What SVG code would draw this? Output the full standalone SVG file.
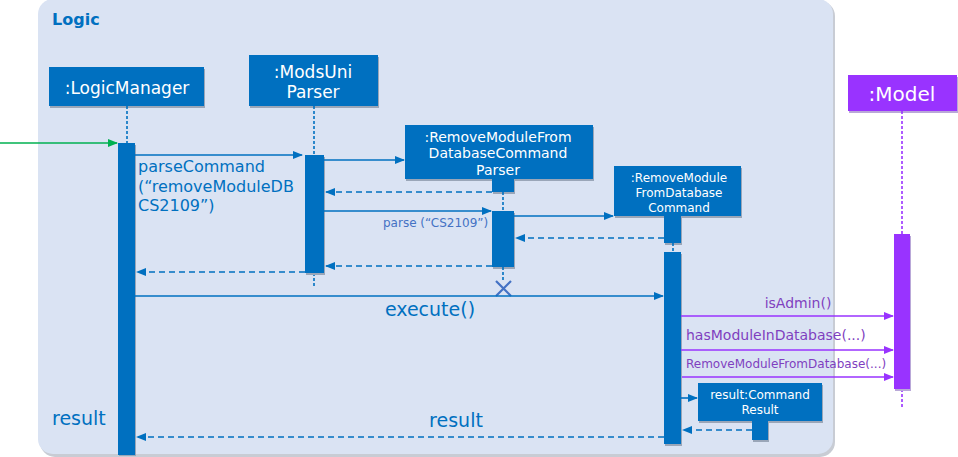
<svg xmlns="http://www.w3.org/2000/svg" width="958" height="457" viewBox="0 0 958 457">
<style>
text{font-family:"DejaVu Sans","Liberation Sans",sans-serif}
.box{fill:#0070C0}
.pbox{fill:#9933FF}
.sh{fill:#9aa6b8}
.wt{fill:#ffffff;text-anchor:middle}
.lbl{fill:#0070C0}
.plbl{fill:#7F3FBF}
.msg{stroke:#0070C0;stroke-width:1.6;fill:none}
.ret{stroke:#0070C0;stroke-width:1.6;fill:none;stroke-dasharray:6 4}
.pmsg{stroke:#9933FF;stroke-width:1.6;fill:none}
.life{stroke:#0070C0;stroke-width:1.6;stroke-dasharray:3 2}
.plife{stroke:#9933FF;stroke-width:1.6;stroke-dasharray:3 2}
</style>
<defs>
<marker id="ab" markerWidth="10" markerHeight="8" refX="9" refY="4" orient="auto" markerUnits="userSpaceOnUse"><path d="M0,0 L10,4 L0,8 Z" fill="#0070C0"/></marker>
<marker id="ap" markerWidth="10" markerHeight="8" refX="9" refY="4" orient="auto" markerUnits="userSpaceOnUse"><path d="M0,0 L10,4 L0,8 Z" fill="#9933FF"/></marker>
<marker id="ag" markerWidth="10" markerHeight="8" refX="9" refY="4" orient="auto" markerUnits="userSpaceOnUse"><path d="M0,0 L10,4 L0,8 Z" fill="#00B050"/></marker>
</defs>
<rect width="958" height="457" fill="#ffffff"/>
<g id="logic-frame">
<rect x="40" y="1" width="795" height="456" rx="15" fill="#c8ccd4"/>
<rect x="38" y="-1" width="795" height="455" rx="15" fill="#DAE3F3"/>
<text x="52" y="25" font-size="16" font-weight="bold" fill="#0070C0">Logic</text>
</g>
<g id="logicmanager">
<rect x="50" y="69" width="155" height="39" class="sh"/>
<rect x="49" y="67" width="155" height="39" class="box"/>
<text x="127" y="94" font-size="17" class="wt">:LogicManager</text>
<line x1="127" y1="106" x2="127" y2="143" class="life"/>
<rect x="119" y="145" width="17" height="311" class="sh"/>
<rect x="118" y="143" width="17" height="312" class="box"/>
</g>
<g id="modsuniparser">
<rect x="250" y="57" width="129" height="51" class="sh"/>
<rect x="249" y="55" width="129" height="51" class="box"/>
<text x="313" y="78" font-size="17" class="wt">:ModsUni</text>
<text x="313" y="98" font-size="17" class="wt">Parser</text>
<line x1="314" y1="106" x2="314" y2="155" class="life"/>
<line x1="314" y1="273" x2="314" y2="286" class="life"/>
<rect x="306" y="157" width="19" height="118" class="sh"/>
<rect x="305" y="155" width="19" height="118" class="box"/>
</g>
<g id="rmfdcparser">
<rect x="406" y="127" width="188" height="54" class="sh"/>
<rect x="405" y="125" width="188" height="54" class="box"/>
<text x="498" y="142" font-size="14" class="wt">:RemoveModuleFrom</text>
<text x="498" y="158" font-size="14" class="wt">DatabaseCommand</text>
<text x="498" y="175" font-size="14" class="wt">Parser</text>
<rect x="493" y="181" width="22" height="13" class="sh"/>
<rect x="492" y="179" width="22" height="13" class="box"/>
<line x1="503" y1="192" x2="503" y2="211" class="life"/>
<rect x="493" y="213" width="22" height="56" class="sh"/>
<rect x="492" y="211" width="22" height="56" class="box"/>
<line x1="503" y1="267" x2="503" y2="281" class="life"/>
<path d="M496,281 L511,296 M511,281 L496,296" stroke="#4472C4" stroke-width="2.2"/>
</g>
<g id="rmfdcommand">
<rect x="615" y="168" width="127" height="50" class="sh"/>
<rect x="614" y="166" width="127" height="50" class="box"/>
<text x="679" y="182" font-size="12" class="wt">:RemoveModule</text>
<text x="679" y="197" font-size="12" class="wt">FromDatabase</text>
<text x="679" y="212" font-size="12" class="wt">Command</text>
<rect x="665" y="218" width="17" height="27" class="sh"/>
<rect x="664" y="216" width="17" height="27" class="box"/>
<line x1="673" y1="243" x2="673" y2="252" class="life"/>
<rect x="665" y="254" width="17" height="192" class="sh"/>
<rect x="664" y="252" width="17" height="192" class="box"/>
</g>
<g id="model">
<rect x="849" y="77" width="109" height="36" fill="#b9a8d8"/>
<rect x="848" y="75" width="109" height="36" class="pbox"/>
<text x="902" y="101" font-size="20" class="wt">:Model</text>
<line x1="902" y1="111" x2="902" y2="234" class="plife"/>
<line x1="902" y1="389" x2="902" y2="407" class="plife"/>
<rect x="895" y="236" width="16" height="155" fill="#b9a8d8"/>
<rect x="894" y="234" width="16" height="155" class="pbox"/>
</g>
<g id="commandresult">
<rect x="699" y="385" width="124" height="38" class="sh"/>
<rect x="698" y="383" width="124" height="38" class="box"/>
<text x="760" y="399" font-size="12" class="wt">result:Command</text>
<text x="760" y="414" font-size="12" class="wt">Result</text>
<rect x="753" y="423" width="16" height="19" class="sh"/>
<rect x="752" y="421" width="16" height="19" class="box"/>
</g>
<g id="connectors">
<line x1="0" y1="143" x2="117" y2="143" stroke="#00B050" stroke-width="1.6" marker-end="url(#ag)"/>
<line x1="135" y1="155" x2="302" y2="155" class="msg" marker-end="url(#ab)"/>
<text x="138" y="172" font-size="16" class="lbl">parseCommand</text>
<text x="138" y="192" font-size="16" class="lbl">(“removeModuleDB</text>
<text x="138" y="211" font-size="16" class="lbl">CS2109”)</text>
<line x1="324" y1="160" x2="404" y2="160" class="msg" marker-end="url(#ab)"/>
<line x1="492" y1="192" x2="326" y2="192" class="ret" marker-end="url(#ab)"/>
<line x1="324" y1="211" x2="491" y2="211" class="msg" stroke="#4472C4" marker-end="url(#ab)"/>
<text x="383" y="227" font-size="12" fill="#4472C4">parse (“CS2109”)</text>
<line x1="514" y1="216" x2="613" y2="216" class="msg" marker-end="url(#ab)"/>
<line x1="664" y1="238" x2="516" y2="238" class="ret" marker-end="url(#ab)"/>
<line x1="492" y1="266" x2="326" y2="266" class="ret" marker-end="url(#ab)"/>
<line x1="305" y1="272" x2="137" y2="272" class="ret" marker-end="url(#ab)"/>
<line x1="135" y1="296" x2="663" y2="296" class="msg" marker-end="url(#ab)"/>
<text x="430" y="316" font-size="19" text-anchor="middle" class="lbl">execute()</text>
<line x1="681" y1="316" x2="893" y2="316" class="pmsg" marker-end="url(#ap)"/>
<text x="798" y="308" font-size="14" text-anchor="middle" class="plbl">isAdmin()</text>
<line x1="681" y1="350" x2="893" y2="350" class="pmsg" marker-end="url(#ap)"/>
<text x="686" y="340" font-size="14" class="plbl">hasModuleInDatabase(...)</text>
<line x1="682" y1="377" x2="893" y2="377" class="pmsg" marker-end="url(#ap)"/>
<text x="686" y="368" font-size="12" class="plbl">RemoveModuleFromDatabase(...)</text>
<line x1="681" y1="398" x2="697" y2="398" class="msg" stroke="#4472C4" marker-end="url(#ab)"/>
<line x1="752" y1="430" x2="683" y2="430" class="ret" marker-end="url(#ab)"/>
<line x1="664" y1="437" x2="137" y2="437" class="ret" marker-end="url(#ab)"/>
<text x="456" y="427" font-size="19" text-anchor="middle" class="lbl">result</text>
<text x="52" y="425" font-size="19" class="lbl">result</text>
</g>
</svg>
